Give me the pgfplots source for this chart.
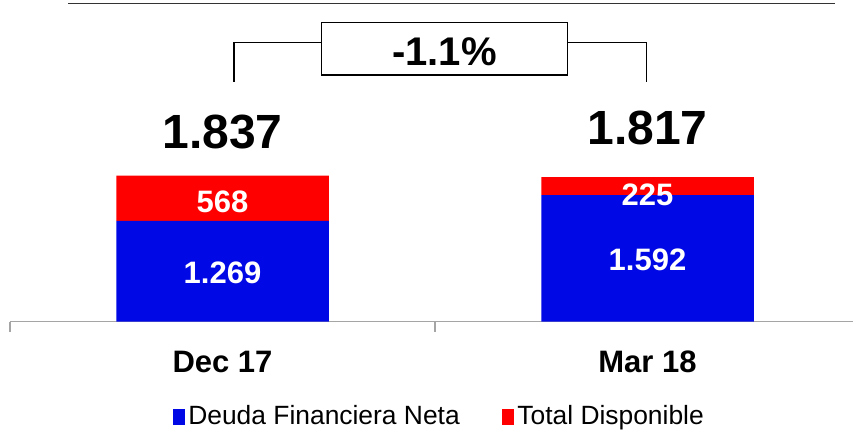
\documentclass[border=0pt]{standalone}
\usepackage{fontspec}
\setmainfont{Liberation Sans}
\usepackage{pgfplots}
\pgfplotsset{compat=1.18}
\definecolor{dfn}{RGB}{0,8,230}
\definecolor{tdisp}{RGB}{255,0,0}
\definecolor{axisgray}{RGB}{165,165,165}
\begin{document}
\begin{tikzpicture}
\useasboundingbox (-5pt,-55.65pt) rectangle (421.5pt,160.85pt);
% bars
\begin{axis}[
  at={(0,0)}, anchor=south west,
  scale only axis,
  width=421.5pt, height=160.85pt,
  xmin=-0.5, xmax=1.4835, ymin=0, ymax=4046,
  ybar stacked, bar width=0.5,
  axis x line*=bottom, axis y line=none,
  x axis line style={-, draw=axisgray, line width=0.6pt},
  xtick={0,1}, xticklabels={Dec 17,Mar 18},
  minor xtick={-0.5,0.5},
  major tick length=0pt, minor tick length=5pt,
  tick align=outside,
  minor tick style={draw=axisgray, line width=0.6pt},
  xticklabel style={font=\bfseries\fontsize{15.5}{18}\selectfont, anchor=base, yshift=-25.65pt},
  legend style={at={(0.5098,-0.295)}, anchor=center, draw=none, fill=none,
    legend columns=2, font=\fontsize{13.2}{15}\selectfont,
    nodes={inner xsep=1.5pt},
    /tikz/every even column/.append style={column sep=19.5pt}},
  legend image code/.code={\fill[#1] (0pt,-4pt) rectangle (6.3pt,3.6pt);},
]
\addplot[fill=dfn, draw=none] coordinates {(0,1269) (1,1592)};
\addplot[fill=tdisp, draw=none] coordinates {(0,568) (1,225)};
\legend{Deuda Financiera Neta,Total Disponible}
\end{axis}
% labels and bracket
\begin{axis}[
  at={(0,0)}, anchor=south west,
  scale only axis,
  width=421.5pt, height=160.85pt,
  xmin=-0.5, xmax=1.4835, ymin=0, ymax=4046,
  hide axis, clip=false,
]
\addplot[draw=none, mark=none, nodes near coords, point meta=explicit symbolic,
  nodes near coords style={anchor=center, inner sep=0pt, text=white, font=\bfseries\fontsize{15.5}{18}\selectfont}]
  coordinates {(0,609)[1.269] (1,776)[1.592] (0,1506)[568] (1,1594)[225]};
\addplot[draw=none, mark=none, nodes near coords, point meta=explicit symbolic,
  nodes near coords style={anchor=center, inner sep=0pt, text=black, font=\bfseries\fontsize{24}{28}\selectfont}]
  coordinates {(0,2386)[1.837] (1,2433)[1.817]};
\draw[line width=0.65pt, black!80] (axis cs:-0.3635,3999) -- (axis cs:1.441,3999);
\draw[line width=0.55pt] (axis cs:0.027,3019) |- (axis cs:0.2325,3509);
\draw[line width=0.55pt] (axis cs:0.811,3509) -| (axis cs:0.998,3019);
\draw[line width=0.65pt] (axis cs:0.2325,3103) rectangle (axis cs:0.811,3761);
\node[font=\bfseries\fontsize{20}{24}\selectfont, inner sep=0pt] at (axis cs:0.522,3392) {-1.1\%};
\end{axis}
\end{tikzpicture}
\end{document}
